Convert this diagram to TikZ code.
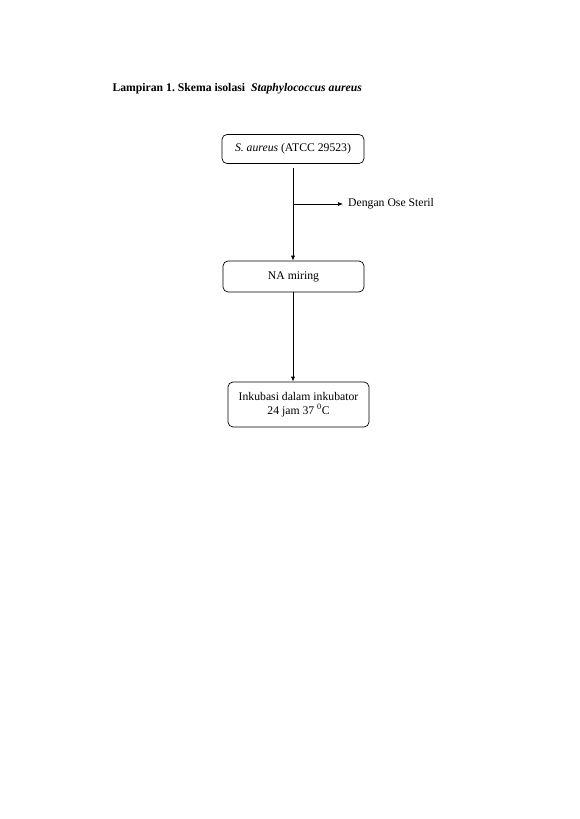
\documentclass[tikz,border=0pt]{standalone}
\usepackage{fontspec}
\setmainfont{Liberation Serif}
\usepackage{tikz}
\usetikzlibrary{arrows.meta}

\begin{document}
\begin{tikzpicture}[x=1pt,y=-1pt,
  font=\fontsize{11.7}{13.5}\selectfont,
  kotak/.style={draw,line width=0.7pt,rounded corners=5pt,align=center,inner sep=2pt},
  panah/.style={-{Latex[length=5pt,width=4pt]},line width=0.7pt}]
\useasboundingbox (0,0) rectangle (579,819);
\node[anchor=west,font=\fontsize{11.7}{13.5}\selectfont\bfseries] (judul) at (109,89) {Lampiran 1.\ Skema isolasi\ \ \textit{Staphylococcus aureus}};
\node[kotak,minimum width=142pt,minimum height=29pt] (aureus) at (293,149) {\textit{S. aureus} (ATCC 29523)};
\node[kotak,minimum width=141pt,minimum height=31pt] (na) at (293.5,276.5) {NA miring};
\node[kotak,minimum width=141pt,minimum height=45pt] (inkubasi) at (298.5,404.5) {Inkubasi dalam inkubator\\24 jam 37 \textsuperscript{0}C};
\coordinate (cabang) at (293,204);
\node[anchor=west,inner sep=0pt] (ose) at (348,204) {Dengan Ose Steril};

\draw[panah] (aureus.south -| cabang) ++(0,4) -- (na.north -| cabang);
\draw[panah] (cabang) -- ([xshift=-5pt]ose.west);
\draw[panah] (na.south -| cabang) -- (inkubasi.north -| cabang);

\end{tikzpicture}
\end{document}
